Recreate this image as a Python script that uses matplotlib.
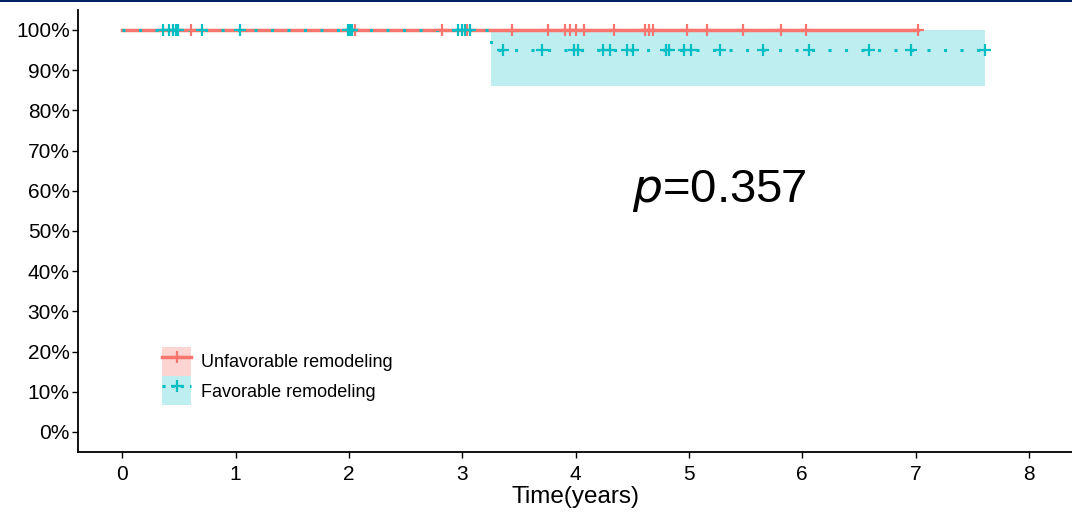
import numpy as np
import matplotlib.pyplot as plt
from matplotlib.lines import Line2D
from matplotlib.patches import Patch, Rectangle
from matplotlib.legend_handler import HandlerTuple

plt.rcParams["font.family"] = ["Liberation Sans", "DejaVu Sans"]

RED = "#F8766D"
TEAL = "#00BFC4"

# Kaplan-Meier steps
unfav_time = [0.0, 7.02]
unfav_surv = [1.0, 1.0]
fav_time = [0.0, 3.25, 7.61]
fav_surv = [1.0, 0.95, 0.95]
fav_lower = [1.0, 0.86, 0.86]
fav_upper = [1.0, 1.0, 1.0]

# censoring times
unfav_censor = [0.61, 2.05, 2.82, 3.04, 3.44, 3.76, 3.91, 3.95, 4.00, 4.07,
                4.34, 4.61, 4.65, 4.68, 4.98, 5.16, 5.48, 5.81, 6.03, 7.02]
fav_censor = [0.36, 0.41, 0.45, 0.47, 0.49, 0.70, 1.04, 1.99, 2.01, 2.03,
              2.96, 3.00, 3.02, 3.07, 3.36, 3.70, 3.99, 4.02, 4.24, 4.30,
              4.45, 4.51, 4.80, 4.82, 4.96, 5.02, 5.27, 5.65, 6.06, 6.59,
              6.96, 7.61]

groups = ["Unfavorable remodeling", "Favorable remodeling"]
y_ticks = np.arange(0, 1.01, 0.1)
y_labels = [f"{int(round(v * 100))}%" for v in y_ticks]
x_ticks = list(range(0, 9))
p_value = 0.357


def surv_at(t, times, surv):
    idx = np.searchsorted(times, t, side="right") - 1
    return np.asarray(surv)[idx]


fig = plt.figure(figsize=(10.72, 5.16), dpi=100)
ax = fig.add_axes([0.0728, 0.124, 0.9272, 0.857])

# confidence band
ax.fill_between(fav_time, fav_lower, fav_upper, step="post",
                color=TEAL, alpha=0.25, linewidth=0)

# curves
ax.step(unfav_time, unfav_surv, where="post", color=RED, lw=2.5)
ax.step(fav_time, fav_surv, where="post", color=TEAL, lw=2.2,
        linestyle=(0, (1, 4.4)), dash_capstyle="butt")

# censor marks
ax.plot(unfav_censor, surv_at(unfav_censor, unfav_time, unfav_surv),
        linestyle="none", marker="+", ms=9, mew=1.6, color=RED)
ax.plot(fav_censor, surv_at(fav_censor, fav_time, fav_surv),
        linestyle="none", marker="+", ms=9, mew=1.6, color=TEAL)

ax.text(4.5, 0.60, f"$p$={p_value}", fontsize=34, ha="left", va="center")

ax.set_xlim(-0.39, 8.38)
ax.set_ylim(-0.05, 1.05)
ax.set_xticks(x_ticks)
ax.set_yticks(y_ticks)
ax.set_yticklabels(y_labels)
ax.tick_params(labelsize=15, length=4, width=1, color="black")
ax.tick_params(axis="x", pad=5)
ax.tick_params(axis="y", pad=2)
ax.set_xlabel("Time(years)", fontsize=17.5, labelpad=2)

for side in ["top", "right"]:
    ax.spines[side].set_visible(False)
for side in ["left", "bottom"]:
    ax.spines[side].set_linewidth(1.3)

handles = [
    (Patch(facecolor=RED, alpha=0.3, linewidth=0),
     Line2D([], [], color=RED, lw=2.5, marker="+", ms=9, mew=1.6)),
    (Patch(facecolor=TEAL, alpha=0.25, linewidth=0),
     Line2D([], [], color=TEAL, lw=2.2, linestyle=(0, (1, 2)),
            marker="+", ms=9, mew=1.6)),
]
ax.legend(handles, groups, handler_map={tuple: HandlerTuple(ndivide=1, pad=0)},
          loc="lower left", bbox_to_anchor=(0.0755, 0.085), frameon=False,
          fontsize=13, handlelength=1.6, handleheight=2.1,
          handletextpad=0.55, labelspacing=0.0, borderpad=0)

# navy strip at the top of the slide
fig.patches.append(Rectangle((0, 0.996), 1, 0.004, transform=fig.transFigure,
                             facecolor="#002060", edgecolor="none"))

fig.savefig("out.png", dpi=100)
